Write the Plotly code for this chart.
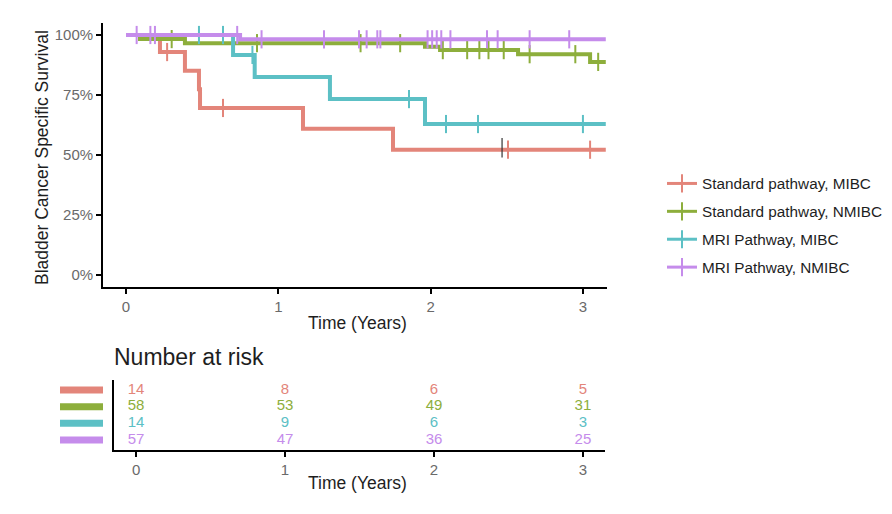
import numpy as np
import plotly.graph_objects as go

# ---------------- data ----------------
groups = ["Standard pathway, MIBC", "Standard pathway, NMIBC",
          "MRI Pathway, MIBC", "MRI Pathway, NMIBC"]
colors = ["#E3857A", "#8DAE3C", "#5CC0C5", "#C58CEB"]

# Kaplan-Meier step functions (time in years, survival fraction)
std_mibc_time = [0.0, 0.223, 0.387, 0.479, 0.486, 1.162, 1.753, 3.15]
std_mibc_surv = [1.0, 0.929, 0.851, 0.774, 0.696, 0.609, 0.522, 0.522]
std_mibc_cens = [0.27, 0.637, 2.508, 3.047]

std_nmibc_time = [0.0, 0.092, 0.387, 1.963, 2.062, 2.574, 3.047, 3.15]
std_nmibc_surv = [1.0, 0.983, 0.966, 0.951, 0.937, 0.920, 0.888, 0.888]
std_nmibc_cens = [0.30, 0.86, 1.54, 1.80, 2.08, 2.24, 2.32, 2.38, 2.48, 2.65, 2.95, 3.10]

mri_mibc_time = [0.0, 0.703, 0.845, 1.339, 1.963, 3.15]
mri_mibc_surv = [1.0, 0.917, 0.825, 0.733, 0.629, 0.629]
mri_mibc_cens = [0.479, 0.637, 0.83, 1.858, 2.101, 2.311, 3.0]

mri_nmibc_time = [0.0, 0.749, 3.15]
mri_nmibc_surv = [1.0, 0.982, 0.982]
mri_nmibc_cens = [0.07, 0.16, 0.19, 0.73, 0.89, 1.30, 1.53, 1.58, 1.65, 1.67,
                  1.98, 2.01, 2.04, 2.07, 2.13, 2.37, 2.44, 2.65, 2.91]

# Number at risk table
risk_times = [0, 1, 2, 3]
risk_std_mibc = [14, 8, 6, 5]
risk_std_nmibc = [58, 53, 49, 31]
risk_mri_mibc = [14, 9, 6, 3]
risk_mri_nmibc = [57, 47, 36, 25]

x_ticks = [0, 1, 2, 3]
y_ticks = [0, 0.25, 0.5, 0.75, 1.0]
y_ticktext = ["0%", "25%", "50%", "75%", "100%"]

curves = [
    (std_mibc_time, std_mibc_surv, std_mibc_cens),
    (std_nmibc_time, std_nmibc_surv, std_nmibc_cens),
    (mri_mibc_time, mri_mibc_surv, mri_mibc_cens),
    (mri_nmibc_time, mri_nmibc_surv, mri_nmibc_cens),
]
risks = [risk_std_mibc, risk_std_nmibc, risk_mri_mibc, risk_mri_nmibc]

W, H = 892, 514
def px(x): return x / W
def py(y): return 1 - y / H

FONT = "Liberation Sans, Arial, sans-serif"
TITLE_C = "#1e1e1e"
fig = go.Figure()

for i, (t, s, c) in enumerate(curves):
    t = np.array(t); s = np.array(s); c = np.array(c)
    idx = np.searchsorted(t, c, side="right") - 1
    fig.add_trace(go.Scatter(x=t, y=s, mode="lines", line=dict(color=colors[i], width=4, shape="hv"),
                             showlegend=False, hoverinfo="skip", xaxis="x", yaxis="y"))
    fig.add_trace(go.Scatter(x=c, y=s[idx], mode="markers",
                             marker=dict(symbol="line-ns-open", size=13, color=colors[i],
                                         line=dict(color=colors[i], width=2)),
                             showlegend=False, hoverinfo="skip", xaxis="x", yaxis="y"))

# legend entries
for i, g in enumerate(groups):
    fig.add_trace(go.Scatter(x=[None], y=[None], mode="lines+markers", name=g, legendgroup=g,
                             line=dict(color=colors[i], width=3),
                             marker=dict(symbol="line-ns-open", size=13, color=colors[i],
                                         line=dict(color=colors[i], width=2)),
                             xaxis="x", yaxis="y"))

# risk table
for i, r in enumerate(risks):
    fig.add_trace(go.Scatter(x=risk_times, y=[i] * len(risk_times), mode="text", text=[str(v) for v in r],
                             textfont=dict(color=colors[i], size=15, family=FONT), textposition="middle center",
                             showlegend=False, hoverinfo="skip", xaxis="x2", yaxis="y2", cliponaxis=False))

axis_common = dict(showgrid=False, zeroline=False, showline=True, linecolor="black", linewidth=1.8,
                   ticks="outside", ticklen=5, tickcolor="black", tickwidth=1.5,
                   tickfont=dict(size=15, color="#6a6a6a", family=FONT))

fig.update_layout(
    width=W, height=H, margin=dict(l=0, r=0, t=0, b=0),
    paper_bgcolor="white", plot_bgcolor="white",
    font=dict(family=FONT),
    xaxis=dict(domain=[px(103), px(607)], range=[-0.151, 3.158], tickvals=x_ticks, anchor="y", **axis_common),
    yaxis=dict(domain=[py(287), py(23)], range=[-0.05, 1.05], tickvals=y_ticks, ticktext=y_ticktext,
               anchor="x", **axis_common),
    xaxis2=dict(domain=[px(114), px(605)], range=[-0.148, 3.148], tickvals=x_ticks, anchor="y2", **axis_common),
    yaxis2=dict(domain=[py(450), py(380)], range=[3.6, -0.6], anchor="x2", showgrid=False, zeroline=False,
                showline=True, linecolor="black", linewidth=1.8, ticks="", showticklabels=False),
    legend=dict(x=px(662), y=py(167), xanchor="left", yanchor="top", tracegroupgap=5,
                font=dict(size=15.3, color=TITLE_C, family=FONT), bgcolor="rgba(0,0,0,0)"),
)

shapes = []
for i in range(4):
    shapes.append(dict(type="line", xref="paper", yref="y2", x0=px(60), x1=px(103), y0=i, y1=i,
                       line=dict(color=colors[i], width=7)))
shapes.append(dict(type="line", xref="x", yref="y", x0=2.469, x1=2.469, y0=0.49, y1=0.571,
                   line=dict(color="#333333", width=1.2)))
fig.update_layout(shapes=shapes)

ann = [
    dict(text="Bladder Cancer Specific Survival", x=px(42), y=py(158), textangle=-90,
         font=dict(size=17.5, color=TITLE_C)),
    dict(text="Time (Years)", x=px(357), y=py(323), font=dict(size=17.5, color=TITLE_C)),
    dict(text="Time (Years)", x=px(357), y=py(483), font=dict(size=17.5, color=TITLE_C)),
    dict(text="Number at risk", x=px(112), y=py(357), xanchor="left", font=dict(size=23, color=TITLE_C)),
]
for a in ann:
    a.update(xref="paper", yref="paper", showarrow=False)
    a.setdefault("xanchor", "center")
    a.setdefault("yanchor", "middle")
fig.update_layout(annotations=ann)

fig.write_html("out.html")
